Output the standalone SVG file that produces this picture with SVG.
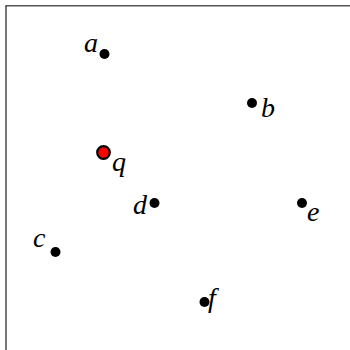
<svg xmlns="http://www.w3.org/2000/svg" width="350" height="350" viewBox="0 0 350 350">
  <style>
    .frame { fill: none; stroke: #555555; stroke-width: 1.6; }
    .pt { fill: #000000; }
    .query { fill: #ff0000; stroke: #000000; stroke-width: 2.2; }
    .lbl { font-family: "Liberation Serif", "Times New Roman", serif; font-style: italic; font-size: 28px; fill: #000000; }
  </style>
  <rect width="350" height="350" fill="#ffffff"/>
  <path class="frame" d="M6,352 V5.8 H352"/>
  <g id="connectors"/>
  <g id="node-a"><circle class="pt" cx="104.5" cy="54" r="5"/><text class="lbl" x="84" y="52">a</text></g>
  <g id="node-b"><circle class="pt" cx="252" cy="103" r="5"/><text class="lbl" x="261" y="117">b</text></g>
  <g id="node-q"><circle class="query" cx="103.5" cy="152.5" r="6.3"/><text class="lbl" x="112" y="171">q</text></g>
  <g id="node-c"><circle class="pt" cx="55.5" cy="252" r="5"/><text class="lbl" x="33" y="247">c</text></g>
  <g id="node-d"><circle class="pt" cx="154.5" cy="203" r="5"/><text class="lbl" x="133" y="214">d</text></g>
  <g id="node-e"><circle class="pt" cx="302" cy="203" r="5"/><text class="lbl" x="307" y="221">e</text></g>
  <g id="node-f"><circle class="pt" cx="204.5" cy="302" r="5"/><text class="lbl" x="208" y="307">f</text></g>
</svg>
